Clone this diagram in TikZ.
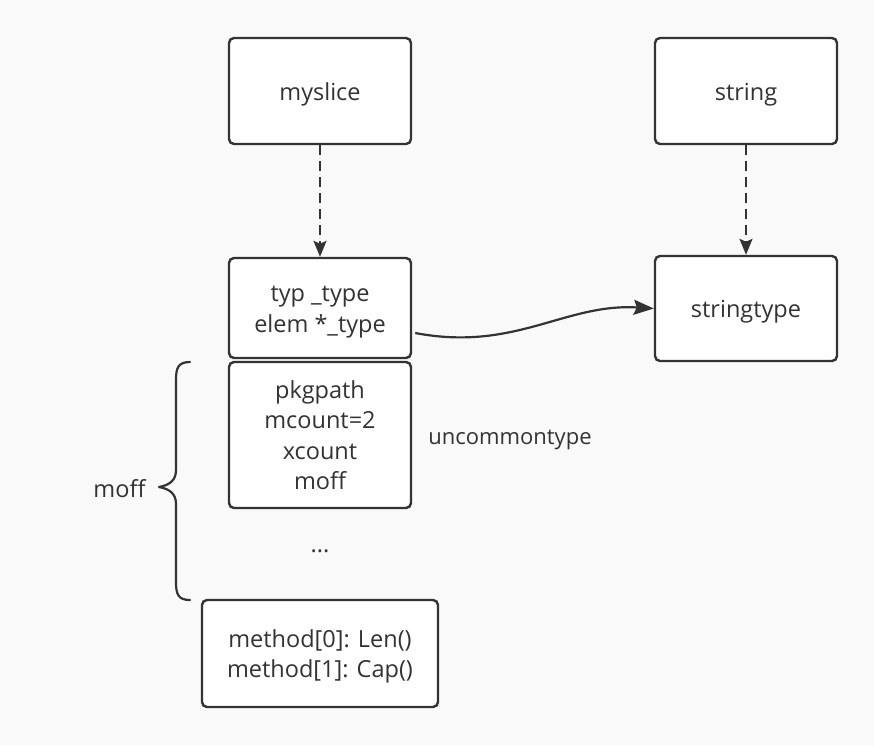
\documentclass[tikz,border=0pt]{standalone}
\usepackage{fontspec}
\setmainfont{Open Sans}
\usetikzlibrary{arrows.meta,calc}
\definecolor{ink}{HTML}{333333}
\definecolor{paper}{HTML}{F9F9F9}
% box text, set a little below the geometric centre
\newcommand\boxtext[1]{\raisebox{-3pt}[\height][\depth]{\begin{tabular}{@{}c@{}}#1\end{tabular}}}
\begin{document}
\begin{tikzpicture}[x=1pt,y=-1pt,
  every node/.style={text=ink,font=\fontsize{23.5}{30.5}\selectfont},
  box/.style={draw=ink,fill=white,line width=2.4pt,rounded corners=5pt,
    align=center,inner sep=0pt},
  deref/.style={draw=ink,line width=2.2pt,dash pattern=on 10pt off 6pt,
    -{Stealth[length=16pt,width=13pt,inset=3pt]}},
  link/.style={draw=ink,line width=2.2pt,
    -{Stealth[length=20pt,width=15pt,inset=3pt]}},
  brace/.style={draw=ink,line width=2.2pt,line cap=round,line join=round}]
  % canvas
  \fill[paper] (0,0) rectangle (874,745);
  \useasboundingbox (0,0) rectangle (874,745);

  % boxes
  \node[box,minimum width=182pt,minimum height=106pt] (myslice) at (320,91) {\boxtext{myslice}};
  \node[box,minimum width=182pt,minimum height=106pt] (string) at (746,91) {\boxtext{string}};
  \node[box,minimum width=182pt,minimum height=100pt] (typ) at (320,308) {\boxtext{typ \_type\\elem *\_type}};
  \node[box,minimum width=182pt,minimum height=105pt] (stype) at (746,308.5) {\boxtext{stringtype}};
  \node[box,minimum width=182pt,minimum height=146pt] (uncommon) at (320,435) {\boxtext{pkgpath\\mcount=2\\xcount\\moff}};
  \node[box,minimum width=236pt,minimum height=107pt] (methods) at (320,653.5) {\boxtext{method[0]: Len()\\method[1]: Cap()}};

  % free labels
  \node[font=\fontsize{22}{30.5}\selectfont] (uname) at (510,440) {uncommontype};
  \node (dots) at (320,551) {...};
  \node[anchor=east] (moff) at (149,489) {moff};

  % pointers
  \draw[deref] (myslice.south) -- (typ.north);
  \draw[deref] (string.south) -- (stype.north);
  \draw[link] ([xshift=3pt,yshift=-25pt]typ.east)
    .. controls (515,352) and (565,303) .. (stype.west);

  % brace spanning the method offset
  \coordinate (btop) at (190,362);
  \coordinate (bbot) at (190,600);
  \coordinate (btip) at (159,487);
  \draw[brace] (btop) .. controls (178,362) and (176,368) .. (176,380)
    -- (176,470) .. controls (176,480) and (170,485) .. (btip)
    .. controls (170,489) and (176,494) .. (176,504)
    -- (176,582) .. controls (176,594) and (178,600) .. (bbot);
\end{tikzpicture}
\end{document}
